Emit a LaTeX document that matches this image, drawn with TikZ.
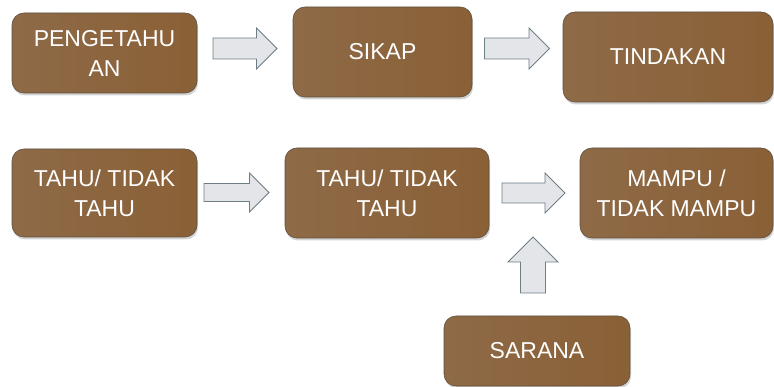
\documentclass[tikz,border=0pt]{standalone}
\usepackage{fontspec}
\setmainfont{Liberation Sans}
\usetikzlibrary{shadows}
\definecolor{boxL}{RGB}{142,106,71}
\definecolor{boxM}{RGB}{156,112,66}
\definecolor{boxR}{RGB}{138,96,54}
\definecolor{boxLine}{RGB}{96,80,62}
\definecolor{arrFill}{RGB}{227,229,232}
\definecolor{arrLine}{RGB}{110,126,133}

\begin{document}
\begin{tikzpicture}[x=1pt,y=-1pt,
    stage/.style={draw=boxLine, line width=0.6pt, rounded corners=12pt,
        left color=boxL, middle color=boxM, right color=boxR,
        drop shadow={shadow xshift=1pt, shadow yshift=-2.5pt, opacity=0.35},
        text=white, align=center, inner sep=0pt,
        font=\fontsize{23}{30}\selectfont},
    blockarr/.style={fill=arrFill, draw=arrLine, line width=0.8pt, line join=miter},
    pics/bigarrow/.style n args={3}{code={
        \draw[blockarr] (-#1/2,-#3/2) -- (#1/2-#2/2,-#3/2) -- (#1/2-#2/2,-#2/2)
            -- (#1/2,0) -- (#1/2-#2/2,#2/2) -- (#1/2-#2/2,#3/2) -- (-#1/2,#3/2) -- cycle;
    }}]
    \useasboundingbox (0,0) rectangle (774,387);

    % upper row
    \node[stage, minimum width=185pt, minimum height=80pt] (pengetahuan) at (104.5,53) {PENGETAHU\\AN};
    \node[stage, minimum width=179pt, minimum height=90pt] (sikap) at (382.5,52) {SIKAP};
    \node[stage, minimum width=210pt, minimum height=90pt] (tindakan) at (668,57) {TINDAKAN};

    \pic (arrA) at (245,48.5) {bigarrow={64}{41}{21}};
    \pic (arrB) at (517,48.5) {bigarrow={65}{41}{21}};

    % lower row
    \node[stage, minimum width=185pt, minimum height=88pt] (tahu) at (104.5,193) {TAHU/ TIDAK\\TAHU};
    \node[stage, minimum width=204pt, minimum height=90pt] (tahuB) at (387,193) {TAHU/ TIDAK\\TAHU};
    \node[stage, minimum width=193pt, minimum height=90pt] (mampu) at (676.5,193) {MAMPU /\\TIDAK MAMPU};
    \node[stage, minimum width=186pt, minimum height=70pt] (sarana) at (537,351) {SARANA};

    \pic (arrC) at (236.5,192.5) {bigarrow={65}{39}{18}};
    \pic (arrD) at (533.5,193) {bigarrow={63}{40}{20}};
    \pic[rotate=90] (arrE) at (533,265) {bigarrow={56}{50}{25}};
\end{tikzpicture}
\end{document}
